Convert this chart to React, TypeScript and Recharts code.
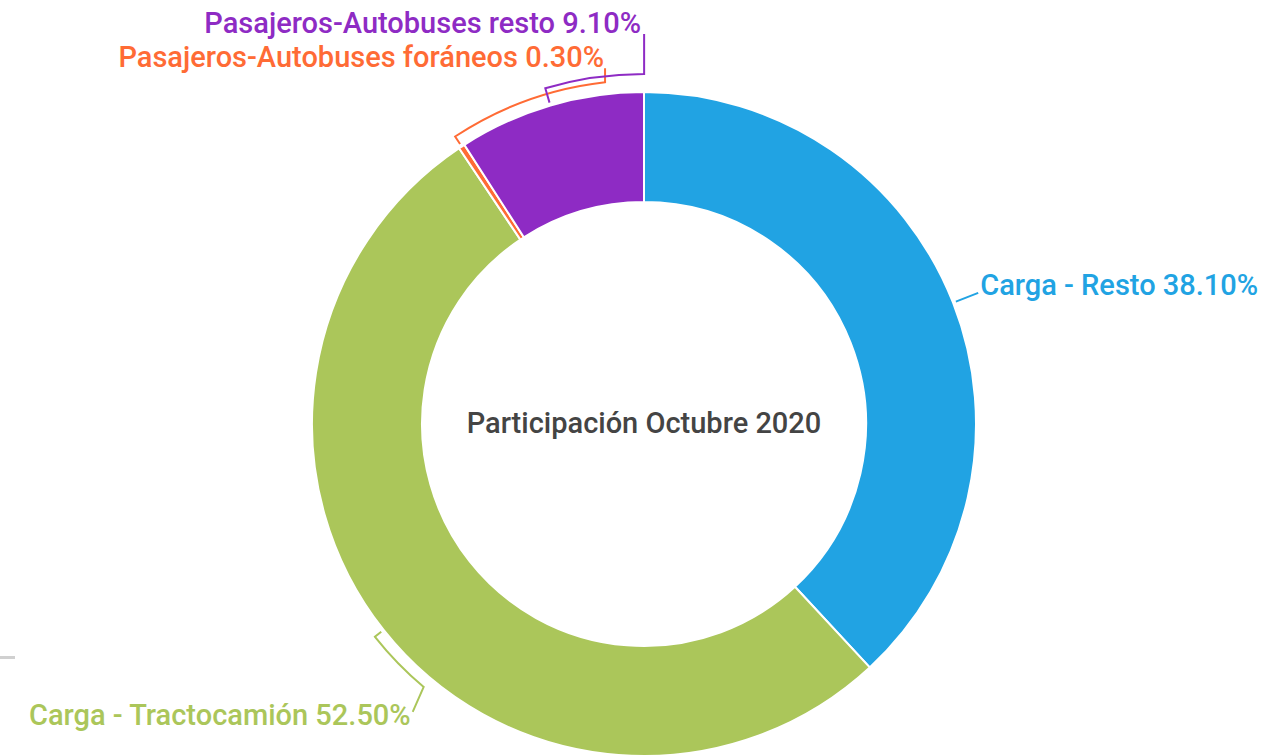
import React from 'react';
import { PieChart, Pie, Cell } from 'recharts';

const categories = [
  'Carga - Resto',
  'Carga - Tractocamión',
  'Pasajeros-Autobuses foráneos',
  'Pasajeros-Autobuses resto',
];
const shares = [38.1, 52.5, 0.3, 9.1];
const colors = ['#21A3E3', '#ABC65A', '#FF6B35', '#8E2BC4'];
const centerTitle = 'Participación Octubre 2020';

// label layout: bracket radius offset, bracket end angle offset (deg), tail vector, text offset, anchor
const labelLayout = [
  { rOff: 27, sweep: 0, tail: [0, 0], text: [2, 2], anchor: 'start' },
  { rOff: 11, sweep: 11.7, tail: [-11, 25], text: [-2, 13], anchor: 'end' },
  { rOff: 12, sweep: -26.8, tail: [0, -14], text: [-1, -1], anchor: 'end' },
  { rOff: 18, sweep: -16.4, tail: [0, -40], text: [-3, -1], anchor: 'end' },
];

const data = categories.map((name, i) => ({ name, value: shares[i] }));

const RAD = Math.PI / 180;

const renderLabel = (props: any) => {
  const { cx, cy, midAngle, outerRadius, index } = props;
  const L = labelLayout[index];
  const pt = (r: number, a: number) => [cx + r * Math.cos(-a * RAD), cy + r * Math.sin(-a * RAD)];
  const rb = outerRadius + L.rOff;
  const p0 = pt(outerRadius + 3, midAngle);
  const p1 = pt(rb, midAngle);
  const a1 = midAngle + L.sweep;
  const p2 = pt(rb, a1);
  const large = Math.abs(L.sweep) > 180 ? 1 : 0;
  const sweepFlag = L.sweep > 0 ? 0 : 1;
  const p3 = [p2[0] + L.tail[0], p2[1] + L.tail[1]];
  let d = `M${p0[0]},${p0[1]} L${p1[0]},${p1[1]}`;
  if (L.sweep !== 0) d += ` A${rb},${rb} 0 ${large} ${sweepFlag} ${p2[0]},${p2[1]}`;
  d += ` L${p3[0]},${p3[1]}`;
  const color = colors[index];
  return (
    <g key={`lbl-${index}`}>
      <path d={d} fill="none" stroke={color} strokeWidth={2} />
      <text
        x={p3[0] + L.text[0]}
        y={p3[1] + L.text[1]}
        textAnchor={L.anchor}
        fill={color}
        fontSize={29}
        fontWeight={500}
        fontFamily="Roboto"
      >
        {`${categories[index]} ${shares[index].toFixed(2)}%`}
      </text>
    </g>
  );
};

export default function App() {
  return (
    <div style={{ position: 'fixed', left: 0, top: 0, width: 1264, height: 756, background: '#fff' }}>
      <div style={{ position: 'absolute', left: 0, top: 656, width: 15, height: 3, background: '#d0d0d0' }} />
      <PieChart width={1264} height={756} margin={{ top: 0, right: 0, bottom: 0, left: 0 }}>
        <Pie
          data={data}
          dataKey="value"
          nameKey="name"
          cx={644}
          cy={424}
          innerRadius={222}
          outerRadius={332}
          startAngle={90}
          endAngle={-270}
          stroke="#ffffff"
          strokeWidth={2}
          label={renderLabel}
          labelLine={false}
          isAnimationActive={false}
        >
          {data.map((d, i) => (
            <Cell key={d.name} fill={colors[i]} />
          ))}
        </Pie>
        <text x={644} y={433} textAnchor="middle" fill="#444444" fontSize={29} fontWeight={500} fontFamily="Roboto">
          {centerTitle}
        </text>
      </PieChart>
    </div>
  );
}
